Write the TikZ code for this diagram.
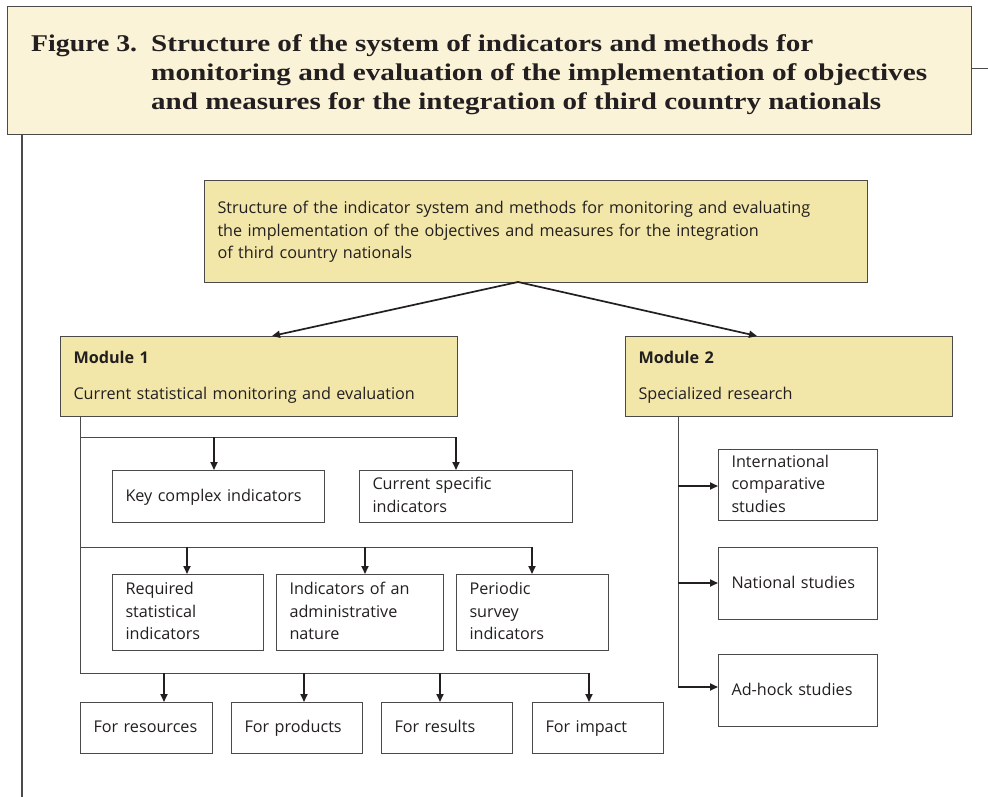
\documentclass[tikz,border=0pt]{standalone}
\usepackage{fontspec}
\usepackage{graphicx}
\setmainfont{Liberation Serif}
\newfontfamily\bodyfont{Open Sans}
\usetikzlibrary{arrows.meta}
\definecolor{titlefill}{HTML}{FAF3D7}
\definecolor{modfill}{HTML}{F2E7A9}
\definecolor{ink}{HTML}{231F20}
\definecolor{edge}{HTML}{4A4A4A}
\tikzset{
  x=1pt, y=-1pt,
  box/.style={draw=edge, line width=1pt, rectangle, anchor=north west, inner ysep=0pt, inner xsep=13pt,
    align=left, font=\bodyfont\fontsize{16.2}{22.5}\selectfont, text=ink,
    execute at begin node={\strut}, execute at end node={\strut}},
  trunk/.style={draw=edge, line width=0.9pt},
  drop/.style={draw=ink, line width=1.7pt, -{Triangle[length=8pt,width=7pt]}},
  ttl/.style={anchor=base west, inner sep=0pt, font=\bfseries\fontsize{24}{29}\selectfont, text=ink}
}
\begin{document}
\begin{tikzpicture}
\useasboundingbox (0,0) rectangle (988,797);
\fill[white] (0,0) rectangle (988,797);
% title frame
\node[draw=edge, line width=1.2pt, fill=titlefill, anchor=north west, minimum width=964pt, minimum height=128pt, inner sep=0pt] (title) at (7,6) {};
\coordinate (tr) at (988,69);
\coordinate (bl) at (22,797);
\draw[edge, line width=1pt] (title.east |- tr) -- (tr);
\draw[edge, line width=1.2pt] (title.south -| bl) -- (bl);
\node[ttl] (t0) at (31,52) {\resizebox{106pt}{\height}{Figure 3.}};
\node[ttl] (t1) at (151,52) {\resizebox{662pt}{\height}{Structure of the system of indicators and methods for}};
\node[ttl] (t2) at (151,81) {\resizebox{776pt}{\height}{monitoring and evaluation of the implementation of objectives}};
\node[ttl] (t3) at (151,110) {\resizebox{730pt}{\height}{and measures for the integration of third country nationals}};

% top box
\node[box, fill=modfill, text width=637pt, minimum height=102pt] (top) at (204,180)
 {Structure of the indicator system and methods for monitoring and evaluating\\
  the implementation of the objectives and measures for the integration\\
  of third country nationals};
% modules
\node[box, fill=modfill, text width=371pt, minimum height=80pt] (m1) at (60,336)
 {\textbf{Module 1}\\[13.5pt]Current statistical monitoring and evaluation};
\node[box, fill=modfill, text width=301pt, minimum height=80pt] (m2) at (625,336)
 {\textbf{Module 2}\\[13.5pt]Specialized research};
\coordinate (topout) at (518,282);
\coordinate (m1in) at (272,336);
\coordinate (m2in) at (757,336);
\draw[drop] (topout) -- (m1in);
\draw[drop] (topout) -- (m2in);

% Module 1 children
\node[box, text width=186pt, minimum height=52pt] (k1) at (112,470) {Key complex indicators};
\node[box, text width=187pt, minimum height=52pt] (k2) at (359,470) {Current specific\\indicators};
\node[box, text width=125pt, minimum height=76pt] (r1) at (112,574) {Required\\statistical\\indicators};
\node[box, text width=141pt, minimum height=76pt] (r2) at (276,574) {Indicators of an\\administrative\\nature};
\node[box, text width=126pt, minimum height=76pt] (r3) at (456,574) {Periodic\\survey\\indicators};
\node[box, text width=106pt, minimum height=51pt] (f1) at (80,702) {For resources};
\node[box, text width=105pt, minimum height=51pt] (f2) at (231,702) {For products};
\node[box, text width=105pt, minimum height=51pt] (f3) at (381,702) {For results};
\node[box, text width=105pt, minimum height=51pt] (f4) at (532,702) {For impact};

\coordinate (m1t) at (80,416);
\coordinate (b1) at (80,437);
\coordinate (b2) at (80,547);
\coordinate (b3) at (80,673);
\coordinate (a11) at (214,437);
\coordinate (a12) at (456,437);
\coordinate (a21) at (187,547);
\coordinate (a22) at (365,547);
\coordinate (a23) at (532,547);
\coordinate (a31) at (164,673);
\coordinate (a32) at (304,673);
\coordinate (a33) at (440,673);
\coordinate (a34) at (589,673);
\draw[trunk] (m1.south -| m1t) -- (b3);
\draw[trunk] (b1) -- (a12);
\draw[trunk] (b2) -- (a23);
\draw[trunk] (b3) -- (a34);
\draw[drop] (a11) -- (k1.north -| a11);
\draw[drop] (a12) -- (k2.north -| a12);
\draw[drop] (a21) -- (r1.north -| a21);
\draw[drop] (a22) -- (r2.north -| a22);
\draw[drop] (a23) -- (r3.north -| a23);
\draw[drop] (a31) -- (f1.north -| a31);
\draw[drop] (a32) -- (f2.north -| a32);
\draw[drop] (a33) -- (f3.north -| a33);
\draw[drop] (a34) -- (f4.north -| a34);

% Module 2 children
\node[box, text width=133pt, minimum height=71pt] (s1) at (718,449) {International\\comparative\\studies};
\node[box, text width=133pt, minimum height=72pt] (s2) at (718,547) {National studies};
\node[box, text width=133pt, minimum height=72pt] (s3) at (718,654) {Ad-hock studies};
\coordinate (m2t) at (678,416);
\coordinate (c1) at (678,486);
\coordinate (c2) at (678,583);
\coordinate (c3) at (678,687);
\draw[trunk] (m2.south -| m2t) -- (c3);
\draw[drop] (c1) -- (s1.west |- c1);
\draw[drop] (c2) -- (s2.west |- c2);
\draw[drop] (c3) -- (s3.west |- c3);
\end{tikzpicture}
\end{document}
